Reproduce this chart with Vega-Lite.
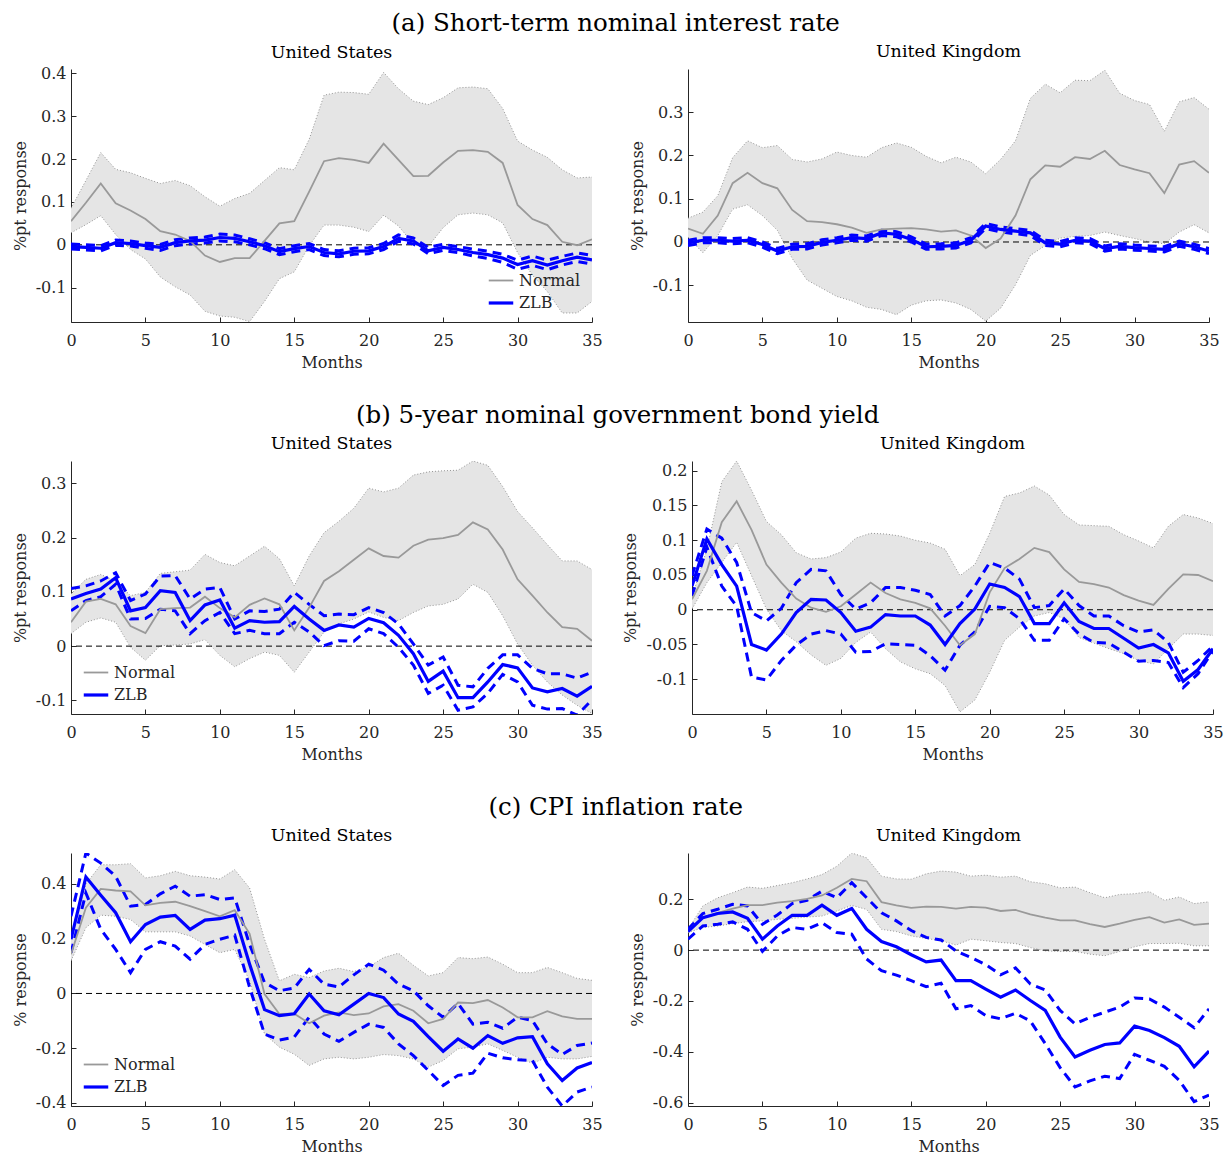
{
  "$schema": "https://vega.github.io/schema/vega-lite/v6.json",
  "background": "white",
  "padding": {"left": 12, "top": 11, "right": 0, "bottom": 0},
  "datasets": {
    "aUS": [
      {"month":0,"Normal":0.055,"nlo":0.028,"nhi":0.085,"ZLB":-0.004,"zlo":-0.010,"zhi":0.002},
      {"month":1,"Normal":0.098,"nlo":0.047,"nhi":0.150,"ZLB":-0.006,"zlo":-0.012,"zhi":0.000},
      {"month":2,"Normal":0.143,"nlo":0.068,"nhi":0.215,"ZLB":-0.008,"zlo":-0.014,"zhi":-0.002},
      {"month":3,"Normal":0.097,"nlo":0.024,"nhi":0.176,"ZLB":0.005,"zlo":-0.001,"zhi":0.011},
      {"month":4,"Normal":0.080,"nlo":-0.011,"nhi":0.168,"ZLB":0.003,"zlo":-0.003,"zhi":0.009},
      {"month":5,"Normal":0.060,"nlo":-0.033,"nhi":0.155,"ZLB":-0.002,"zlo":-0.008,"zhi":0.004},
      {"month":6,"Normal":0.032,"nlo":-0.075,"nhi":0.143,"ZLB":-0.006,"zlo":-0.013,"zhi":0.001},
      {"month":7,"Normal":0.024,"nlo":-0.098,"nhi":0.150,"ZLB":0.005,"zlo":-0.002,"zhi":0.012},
      {"month":8,"Normal":0.009,"nlo":-0.117,"nhi":0.138,"ZLB":0.009,"zlo":0.002,"zhi":0.016},
      {"month":9,"Normal":-0.025,"nlo":-0.155,"nhi":0.112,"ZLB":0.011,"zlo":0.004,"zhi":0.018},
      {"month":10,"Normal":-0.040,"nlo":-0.166,"nhi":0.090,"ZLB":0.017,"zlo":0.009,"zhi":0.025},
      {"month":11,"Normal":-0.031,"nlo":-0.169,"nhi":0.108,"ZLB":0.015,"zlo":0.007,"zhi":0.023},
      {"month":12,"Normal":-0.031,"nlo":-0.179,"nhi":0.120,"ZLB":0.007,"zlo":0.000,"zhi":0.014},
      {"month":13,"Normal":0.009,"nlo":-0.132,"nhi":0.150,"ZLB":-0.002,"zlo":-0.009,"zhi":0.005},
      {"month":14,"Normal":0.050,"nlo":-0.079,"nhi":0.180,"ZLB":-0.016,"zlo":-0.023,"zhi":-0.009},
      {"month":15,"Normal":0.055,"nlo":-0.063,"nhi":0.175,"ZLB":-0.009,"zlo":-0.016,"zhi":-0.002},
      {"month":16,"Normal":0.124,"nlo":-0.002,"nhi":0.246,"ZLB":-0.004,"zlo":-0.011,"zhi":0.003},
      {"month":17,"Normal":0.195,"nlo":0.046,"nhi":0.349,"ZLB":-0.018,"zlo":-0.025,"zhi":-0.011},
      {"month":18,"Normal":0.202,"nlo":0.046,"nhi":0.356,"ZLB":-0.021,"zlo":-0.028,"zhi":-0.014},
      {"month":19,"Normal":0.198,"nlo":0.041,"nhi":0.355,"ZLB":-0.015,"zlo":-0.022,"zhi":-0.008},
      {"month":20,"Normal":0.191,"nlo":0.031,"nhi":0.351,"ZLB":-0.014,"zlo":-0.021,"zhi":-0.007},
      {"month":21,"Normal":0.236,"nlo":0.069,"nhi":0.402,"ZLB":-0.004,"zlo":-0.011,"zhi":0.003},
      {"month":22,"Normal":0.198,"nlo":0.044,"nhi":0.364,"ZLB":0.015,"zlo":0.008,"zhi":0.023},
      {"month":23,"Normal":0.160,"nlo":0.002,"nhi":0.335,"ZLB":0.009,"zlo":0.002,"zhi":0.016},
      {"month":24,"Normal":0.161,"nlo":-0.004,"nhi":0.327,"ZLB":-0.014,"zlo":-0.021,"zhi":-0.006},
      {"month":25,"Normal":0.192,"nlo":0.040,"nhi":0.343,"ZLB":-0.006,"zlo":-0.013,"zhi":0.001},
      {"month":26,"Normal":0.219,"nlo":0.070,"nhi":0.366,"ZLB":-0.011,"zlo":-0.018,"zhi":-0.004},
      {"month":27,"Normal":0.221,"nlo":0.074,"nhi":0.368,"ZLB":-0.018,"zlo":-0.026,"zhi":-0.010},
      {"month":28,"Normal":0.217,"nlo":0.070,"nhi":0.364,"ZLB":-0.023,"zlo":-0.032,"zhi":-0.015},
      {"month":29,"Normal":0.191,"nlo":0.051,"nhi":0.318,"ZLB":-0.031,"zlo":-0.041,"zhi":-0.022},
      {"month":30,"Normal":0.093,"nlo":-0.018,"nhi":0.242,"ZLB":-0.046,"zlo":-0.057,"zhi":-0.036},
      {"month":31,"Normal":0.060,"nlo":-0.071,"nhi":0.221,"ZLB":-0.037,"zlo":-0.048,"zhi":-0.026},
      {"month":32,"Normal":0.046,"nlo":-0.109,"nhi":0.204,"ZLB":-0.047,"zlo":-0.058,"zhi":-0.036},
      {"month":33,"Normal":0.007,"nlo":-0.159,"nhi":0.175,"ZLB":-0.037,"zlo":-0.047,"zhi":-0.027},
      {"month":34,"Normal":-0.001,"nlo":-0.159,"nhi":0.156,"ZLB":-0.029,"zlo":-0.039,"zhi":-0.019},
      {"month":35,"Normal":0.013,"nlo":-0.132,"nhi":0.158,"ZLB":-0.035,"zlo":-0.045,"zhi":-0.025}
    ],
    "aUK": [
      {"month":0,"Normal":0.031,"nlo":0.011,"nhi":0.055,"ZLB":-0.002,"zlo":-0.008,"zhi":0.004},
      {"month":1,"Normal":0.019,"nlo":-0.025,"nhi":0.069,"ZLB":0.004,"zlo":-0.002,"zhi":0.010},
      {"month":2,"Normal":0.061,"nlo":0.015,"nhi":0.107,"ZLB":0.004,"zlo":-0.002,"zhi":0.010},
      {"month":3,"Normal":0.136,"nlo":0.076,"nhi":0.195,"ZLB":0.002,"zlo":-0.004,"zhi":0.008},
      {"month":4,"Normal":0.160,"nlo":0.086,"nhi":0.234,"ZLB":0.004,"zlo":-0.002,"zhi":0.010},
      {"month":5,"Normal":0.136,"nlo":0.061,"nhi":0.218,"ZLB":-0.006,"zlo":-0.012,"zhi":0.000},
      {"month":6,"Normal":0.124,"nlo":0.027,"nhi":0.223,"ZLB":-0.021,"zlo":-0.027,"zhi":-0.015},
      {"month":7,"Normal":0.074,"nlo":-0.038,"nhi":0.191,"ZLB":-0.011,"zlo":-0.017,"zhi":-0.005},
      {"month":8,"Normal":0.048,"nlo":-0.088,"nhi":0.185,"ZLB":-0.010,"zlo":-0.016,"zhi":-0.004},
      {"month":9,"Normal":0.046,"nlo":-0.107,"nhi":0.192,"ZLB":-0.001,"zlo":-0.007,"zhi":0.005},
      {"month":10,"Normal":0.041,"nlo":-0.126,"nhi":0.208,"ZLB":0.004,"zlo":-0.002,"zhi":0.010},
      {"month":11,"Normal":0.033,"nlo":-0.136,"nhi":0.200,"ZLB":0.010,"zlo":0.004,"zhi":0.016},
      {"month":12,"Normal":0.021,"nlo":-0.151,"nhi":0.196,"ZLB":0.008,"zlo":0.002,"zhi":0.014},
      {"month":13,"Normal":0.029,"nlo":-0.156,"nhi":0.218,"ZLB":0.021,"zlo":0.015,"zhi":0.027},
      {"month":14,"Normal":0.031,"nlo":-0.168,"nhi":0.229,"ZLB":0.018,"zlo":0.012,"zhi":0.024},
      {"month":15,"Normal":0.032,"nlo":-0.146,"nhi":0.219,"ZLB":0.006,"zlo":0.000,"zhi":0.012},
      {"month":16,"Normal":0.029,"nlo":-0.136,"nhi":0.198,"ZLB":-0.011,"zlo":-0.017,"zhi":-0.005},
      {"month":17,"Normal":0.024,"nlo":-0.134,"nhi":0.183,"ZLB":-0.010,"zlo":-0.016,"zhi":-0.004},
      {"month":18,"Normal":0.027,"nlo":-0.141,"nhi":0.196,"ZLB":-0.008,"zlo":-0.014,"zhi":-0.002},
      {"month":19,"Normal":0.015,"nlo":-0.156,"nhi":0.185,"ZLB":0.004,"zlo":-0.002,"zhi":0.010},
      {"month":20,"Normal":-0.014,"nlo":-0.183,"nhi":0.158,"ZLB":0.037,"zlo":0.031,"zhi":0.043},
      {"month":21,"Normal":0.008,"nlo":-0.153,"nhi":0.191,"ZLB":0.029,"zlo":0.023,"zhi":0.035},
      {"month":22,"Normal":0.061,"nlo":-0.099,"nhi":0.234,"ZLB":0.025,"zlo":0.019,"zhi":0.031},
      {"month":23,"Normal":0.145,"nlo":-0.031,"nhi":0.332,"ZLB":0.021,"zlo":0.015,"zhi":0.027},
      {"month":24,"Normal":0.177,"nlo":-0.008,"nhi":0.365,"ZLB":-0.002,"zlo":-0.008,"zhi":0.004},
      {"month":25,"Normal":0.174,"nlo":0.009,"nhi":0.345,"ZLB":-0.005,"zlo":-0.011,"zhi":0.001},
      {"month":26,"Normal":0.196,"nlo":0.013,"nhi":0.374,"ZLB":0.004,"zlo":-0.002,"zhi":0.010},
      {"month":27,"Normal":0.192,"nlo":0.015,"nhi":0.373,"ZLB":0.002,"zlo":-0.004,"zhi":0.008},
      {"month":28,"Normal":0.211,"nlo":0.023,"nhi":0.397,"ZLB":-0.015,"zlo":-0.021,"zhi":-0.009},
      {"month":29,"Normal":0.178,"nlo":0.015,"nhi":0.344,"ZLB":-0.010,"zlo":-0.016,"zhi":-0.004},
      {"month":30,"Normal":0.168,"nlo":0.008,"nhi":0.327,"ZLB":-0.013,"zlo":-0.019,"zhi":-0.007},
      {"month":31,"Normal":0.159,"nlo":0.000,"nhi":0.318,"ZLB":-0.015,"zlo":-0.021,"zhi":-0.009},
      {"month":32,"Normal":0.113,"nlo":-0.004,"nhi":0.256,"ZLB":-0.017,"zlo":-0.023,"zhi":-0.011},
      {"month":33,"Normal":0.179,"nlo":0.023,"nhi":0.324,"ZLB":-0.004,"zlo":-0.010,"zhi":0.002},
      {"month":34,"Normal":0.187,"nlo":0.040,"nhi":0.334,"ZLB":-0.011,"zlo":-0.017,"zhi":-0.005},
      {"month":35,"Normal":0.160,"nlo":0.021,"nhi":0.307,"ZLB":-0.021,"zlo":-0.027,"zhi":-0.015}
    ],
    "bUS": [
      {"month":0,"Normal":0.044,"nlo":0.023,"nhi":0.096,"ZLB":0.087,"zlo":0.065,"zhi":0.106},
      {"month":1,"Normal":0.082,"nlo":0.044,"nhi":0.123,"ZLB":0.097,"zlo":0.084,"zhi":0.111},
      {"month":2,"Normal":0.087,"nlo":0.052,"nhi":0.132,"ZLB":0.105,"zlo":0.091,"zhi":0.120},
      {"month":3,"Normal":0.077,"nlo":0.044,"nhi":0.120,"ZLB":0.126,"zlo":0.114,"zhi":0.135},
      {"month":4,"Normal":0.037,"nlo":-0.002,"nhi":0.093,"ZLB":0.065,"zlo":0.050,"zhi":0.084},
      {"month":5,"Normal":0.024,"nlo":-0.026,"nhi":0.099,"ZLB":0.071,"zlo":0.051,"zhi":0.096},
      {"month":6,"Normal":0.068,"nlo":0.001,"nhi":0.134,"ZLB":0.102,"zlo":0.068,"zhi":0.129},
      {"month":7,"Normal":0.070,"nlo":0.002,"nhi":0.137,"ZLB":0.099,"zlo":0.065,"zhi":0.130},
      {"month":8,"Normal":0.071,"nlo":0.004,"nhi":0.140,"ZLB":0.047,"zlo":0.023,"zhi":0.087},
      {"month":9,"Normal":0.091,"nlo":0.012,"nhi":0.169,"ZLB":0.076,"zlo":0.047,"zhi":0.105},
      {"month":10,"Normal":0.070,"nlo":-0.017,"nhi":0.154,"ZLB":0.085,"zlo":0.062,"zhi":0.108},
      {"month":11,"Normal":0.053,"nlo":-0.038,"nhi":0.148,"ZLB":0.033,"zlo":0.023,"zhi":0.050},
      {"month":12,"Normal":0.076,"nlo":-0.023,"nhi":0.166,"ZLB":0.047,"zlo":0.029,"zhi":0.065},
      {"month":13,"Normal":0.088,"nlo":-0.011,"nhi":0.184,"ZLB":0.044,"zlo":0.023,"zhi":0.064},
      {"month":14,"Normal":0.077,"nlo":-0.017,"nhi":0.161,"ZLB":0.045,"zlo":0.023,"zhi":0.068},
      {"month":15,"Normal":0.029,"nlo":-0.048,"nhi":0.111,"ZLB":0.073,"zlo":0.044,"zhi":0.099},
      {"month":16,"Normal":0.071,"nlo":-0.011,"nhi":0.166,"ZLB":0.050,"zlo":0.026,"zhi":0.077},
      {"month":17,"Normal":0.120,"nlo":0.026,"nhi":0.209,"ZLB":0.029,"zlo":0.001,"zhi":0.056},
      {"month":18,"Normal":0.138,"nlo":0.041,"nhi":0.230,"ZLB":0.039,"zlo":0.010,"zhi":0.059},
      {"month":19,"Normal":0.159,"nlo":0.050,"nhi":0.254,"ZLB":0.035,"zlo":0.009,"zhi":0.058},
      {"month":20,"Normal":0.180,"nlo":0.063,"nhi":0.291,"ZLB":0.051,"zlo":0.032,"zhi":0.071},
      {"month":21,"Normal":0.166,"nlo":0.053,"nhi":0.284,"ZLB":0.043,"zlo":0.023,"zhi":0.062},
      {"month":22,"Normal":0.163,"nlo":0.047,"nhi":0.291,"ZLB":0.020,"zlo":-0.002,"zhi":0.041},
      {"month":23,"Normal":0.185,"nlo":0.062,"nhi":0.315,"ZLB":-0.014,"zlo":-0.035,"zhi":0.004},
      {"month":24,"Normal":0.196,"nlo":0.074,"nhi":0.321,"ZLB":-0.065,"zlo":-0.087,"zhi":-0.035},
      {"month":25,"Normal":0.199,"nlo":0.077,"nhi":0.323,"ZLB":-0.046,"zlo":-0.072,"zhi":-0.020},
      {"month":26,"Normal":0.205,"nlo":0.087,"nhi":0.324,"ZLB":-0.095,"zlo":-0.118,"zhi":-0.072},
      {"month":27,"Normal":0.228,"nlo":0.114,"nhi":0.341,"ZLB":-0.095,"zlo":-0.112,"zhi":-0.075},
      {"month":28,"Normal":0.215,"nlo":0.099,"nhi":0.333,"ZLB":-0.066,"zlo":-0.087,"zhi":-0.041},
      {"month":29,"Normal":0.178,"nlo":0.056,"nhi":0.294,"ZLB":-0.034,"zlo":-0.052,"zhi":-0.016},
      {"month":30,"Normal":0.123,"nlo":0.004,"nhi":0.248,"ZLB":-0.040,"zlo":-0.066,"zhi":-0.016},
      {"month":31,"Normal":0.093,"nlo":-0.035,"nhi":0.218,"ZLB":-0.077,"zlo":-0.109,"zhi":-0.041},
      {"month":32,"Normal":0.062,"nlo":-0.066,"nhi":0.187,"ZLB":-0.084,"zlo":-0.116,"zhi":-0.051},
      {"month":33,"Normal":0.035,"nlo":-0.090,"nhi":0.157,"ZLB":-0.078,"zlo":-0.115,"zhi":-0.051},
      {"month":34,"Normal":0.032,"nlo":-0.109,"nhi":0.157,"ZLB":-0.092,"zlo":-0.127,"zhi":-0.059},
      {"month":35,"Normal":0.010,"nlo":-0.124,"nhi":0.141,"ZLB":-0.074,"zlo":-0.099,"zhi":-0.048}
    ],
    "bUK": [
      {"month":0,"Normal":0.015,"nlo":0.001,"nhi":0.018,"ZLB":0.034,"zlo":0.020,"zhi":0.049},
      {"month":1,"Normal":0.056,"nlo":0.039,"nhi":0.087,"ZLB":0.102,"zlo":0.090,"zhi":0.116},
      {"month":2,"Normal":0.126,"nlo":0.068,"nhi":0.184,"ZLB":0.065,"zlo":0.034,"zhi":0.103},
      {"month":3,"Normal":0.156,"nlo":0.097,"nhi":0.214,"ZLB":0.034,"zlo":0.005,"zhi":0.068},
      {"month":4,"Normal":0.115,"nlo":0.049,"nhi":0.172,"ZLB":-0.050,"zlo":-0.097,"zhi":-0.004},
      {"month":5,"Normal":0.065,"nlo":0.001,"nhi":0.127,"ZLB":-0.058,"zlo":-0.101,"zhi":-0.016},
      {"month":6,"Normal":0.039,"nlo":-0.030,"nhi":0.108,"ZLB":-0.035,"zlo":-0.073,"zhi":0.002},
      {"month":7,"Normal":0.016,"nlo":-0.046,"nhi":0.082,"ZLB":-0.004,"zlo":-0.051,"zhi":0.039},
      {"month":8,"Normal":0.003,"nlo":-0.065,"nhi":0.073,"ZLB":0.015,"zlo":-0.035,"zhi":0.058},
      {"month":9,"Normal":-0.003,"nlo":-0.080,"nhi":0.075,"ZLB":0.014,"zlo":-0.030,"zhi":0.056},
      {"month":10,"Normal":0.005,"nlo":-0.070,"nhi":0.083,"ZLB":-0.004,"zlo":-0.035,"zhi":0.022},
      {"month":11,"Normal":0.022,"nlo":-0.047,"nhi":0.103,"ZLB":-0.031,"zlo":-0.061,"zhi":0.001},
      {"month":12,"Normal":0.039,"nlo":-0.032,"nhi":0.110,"ZLB":-0.025,"zlo":-0.060,"zhi":0.010},
      {"month":13,"Normal":0.024,"nlo":-0.056,"nhi":0.109,"ZLB":-0.007,"zlo":-0.049,"zhi":0.032},
      {"month":14,"Normal":0.015,"nlo":-0.075,"nhi":0.106,"ZLB":-0.009,"zlo":-0.050,"zhi":0.032},
      {"month":15,"Normal":0.010,"nlo":-0.085,"nhi":0.100,"ZLB":-0.009,"zlo":-0.051,"zhi":0.028},
      {"month":16,"Normal":0.002,"nlo":-0.092,"nhi":0.096,"ZLB":-0.022,"zlo":-0.066,"zhi":0.022},
      {"month":17,"Normal":-0.023,"nlo":-0.109,"nhi":0.087,"ZLB":-0.050,"zlo":-0.087,"zhi":-0.009},
      {"month":18,"Normal":-0.051,"nlo":-0.147,"nhi":0.049,"ZLB":-0.020,"zlo":-0.051,"zhi":0.006},
      {"month":19,"Normal":-0.035,"nlo":-0.130,"nhi":0.065,"ZLB":0.001,"zlo":-0.032,"zhi":0.034},
      {"month":20,"Normal":0.025,"nlo":-0.090,"nhi":0.110,"ZLB":0.037,"zlo":0.005,"zhi":0.068},
      {"month":21,"Normal":0.060,"nlo":-0.044,"nhi":0.163,"ZLB":0.032,"zlo":0.003,"zhi":0.060},
      {"month":22,"Normal":0.073,"nlo":-0.025,"nhi":0.168,"ZLB":0.019,"zlo":-0.013,"zhi":0.044},
      {"month":23,"Normal":0.089,"nlo":-0.009,"nhi":0.178,"ZLB":-0.020,"zlo":-0.044,"zhi":0.003},
      {"month":24,"Normal":0.083,"nlo":-0.004,"nhi":0.165,"ZLB":-0.020,"zlo":-0.044,"zhi":0.006},
      {"month":25,"Normal":0.058,"nlo":-0.013,"nhi":0.137,"ZLB":0.010,"zlo":-0.013,"zhi":0.030},
      {"month":26,"Normal":0.040,"nlo":-0.040,"nhi":0.122,"ZLB":-0.017,"zlo":-0.035,"zhi":0.006},
      {"month":27,"Normal":0.037,"nlo":-0.048,"nhi":0.121,"ZLB":-0.027,"zlo":-0.047,"zhi":-0.009},
      {"month":28,"Normal":0.032,"nlo":-0.056,"nhi":0.120,"ZLB":-0.027,"zlo":-0.048,"zhi":-0.009},
      {"month":29,"Normal":0.021,"nlo":-0.063,"nhi":0.108,"ZLB":-0.041,"zlo":-0.061,"zhi":-0.023},
      {"month":30,"Normal":0.013,"nlo":-0.073,"nhi":0.099,"ZLB":-0.055,"zlo":-0.074,"zhi":-0.032},
      {"month":31,"Normal":0.007,"nlo":-0.078,"nhi":0.089,"ZLB":-0.050,"zlo":-0.073,"zhi":-0.029},
      {"month":32,"Normal":0.030,"nlo":-0.056,"nhi":0.120,"ZLB":-0.062,"zlo":-0.076,"zhi":-0.047},
      {"month":33,"Normal":0.051,"nlo":-0.035,"nhi":0.137,"ZLB":-0.103,"zlo":-0.112,"zhi":-0.090},
      {"month":34,"Normal":0.050,"nlo":-0.035,"nhi":0.132,"ZLB":-0.086,"zlo":-0.092,"zhi":-0.073},
      {"month":35,"Normal":0.041,"nlo":-0.037,"nhi":0.124,"ZLB":-0.056,"zlo":-0.059,"zhi":-0.052}
    ],
    "cUS": [
      {"month":0,"Normal":0.143,"nlo":0.119,"nhi":0.210,"ZLB":0.198,"zlo":0.149,"zhi":0.282},
      {"month":1,"Normal":0.313,"nlo":0.240,"nhi":0.400,"ZLB":0.425,"zlo":0.367,"zhi":0.513},
      {"month":2,"Normal":0.382,"nlo":0.286,"nhi":0.470,"ZLB":0.359,"zlo":0.234,"zhi":0.476},
      {"month":3,"Normal":0.376,"nlo":0.282,"nhi":0.470,"ZLB":0.295,"zlo":0.161,"zhi":0.428},
      {"month":4,"Normal":0.373,"nlo":0.270,"nhi":0.474,"ZLB":0.189,"zlo":0.076,"zhi":0.319},
      {"month":5,"Normal":0.322,"nlo":0.225,"nhi":0.422,"ZLB":0.252,"zlo":0.161,"zhi":0.325},
      {"month":6,"Normal":0.331,"nlo":0.225,"nhi":0.430,"ZLB":0.279,"zlo":0.189,"zhi":0.364},
      {"month":7,"Normal":0.335,"nlo":0.225,"nhi":0.446,"ZLB":0.285,"zlo":0.173,"zhi":0.392},
      {"month":8,"Normal":0.319,"nlo":0.210,"nhi":0.430,"ZLB":0.234,"zlo":0.125,"zhi":0.355},
      {"month":9,"Normal":0.301,"nlo":0.179,"nhi":0.425,"ZLB":0.268,"zlo":0.179,"zhi":0.361},
      {"month":10,"Normal":0.282,"nlo":0.149,"nhi":0.418,"ZLB":0.273,"zlo":0.198,"zhi":0.343},
      {"month":11,"Normal":0.304,"nlo":0.161,"nhi":0.452,"ZLB":0.286,"zlo":0.213,"zhi":0.349},
      {"month":12,"Normal":0.218,"nlo":0.046,"nhi":0.385,"ZLB":0.107,"zlo":0.022,"zhi":0.179},
      {"month":13,"Normal":-0.002,"nlo":-0.148,"nhi":0.198,"ZLB":-0.059,"zlo":-0.148,"zhi":0.040},
      {"month":14,"Normal":-0.075,"nlo":-0.196,"nhi":0.046,"ZLB":-0.081,"zlo":-0.170,"zhi":0.010},
      {"month":15,"Normal":-0.074,"nlo":-0.222,"nhi":0.070,"ZLB":-0.074,"zlo":-0.159,"zhi":0.020},
      {"month":16,"Normal":-0.109,"nlo":-0.263,"nhi":0.058,"ZLB":-0.002,"zlo":-0.087,"zhi":0.088},
      {"month":17,"Normal":-0.081,"nlo":-0.239,"nhi":0.082,"ZLB":-0.063,"zlo":-0.148,"zhi":0.034},
      {"month":18,"Normal":-0.069,"nlo":-0.233,"nhi":0.092,"ZLB":-0.078,"zlo":-0.175,"zhi":0.024},
      {"month":19,"Normal":-0.079,"nlo":-0.239,"nhi":0.080,"ZLB":-0.039,"zlo":-0.142,"zhi":0.068},
      {"month":20,"Normal":-0.073,"nlo":-0.233,"nhi":0.097,"ZLB":0.000,"zlo":-0.112,"zhi":0.107},
      {"month":21,"Normal":-0.047,"nlo":-0.223,"nhi":0.131,"ZLB":-0.015,"zlo":-0.124,"zhi":0.085},
      {"month":22,"Normal":-0.039,"nlo":-0.227,"nhi":0.147,"ZLB":-0.075,"zlo":-0.184,"zhi":0.034},
      {"month":23,"Normal":-0.063,"nlo":-0.239,"nhi":0.103,"ZLB":-0.102,"zlo":-0.227,"zhi":0.010},
      {"month":24,"Normal":-0.109,"nlo":-0.269,"nhi":0.064,"ZLB":-0.158,"zlo":-0.281,"zhi":-0.045},
      {"month":25,"Normal":-0.093,"nlo":-0.245,"nhi":0.076,"ZLB":-0.211,"zlo":-0.336,"zhi":-0.087},
      {"month":26,"Normal":-0.033,"nlo":-0.202,"nhi":0.131,"ZLB":-0.166,"zlo":-0.299,"zhi":-0.036},
      {"month":27,"Normal":-0.035,"nlo":-0.196,"nhi":0.127,"ZLB":-0.200,"zlo":-0.291,"zhi":-0.112},
      {"month":28,"Normal":-0.024,"nlo":-0.184,"nhi":0.133,"ZLB":-0.154,"zlo":-0.218,"zhi":-0.105},
      {"month":29,"Normal":-0.051,"nlo":-0.208,"nhi":0.107,"ZLB":-0.182,"zlo":-0.235,"zhi":-0.127},
      {"month":30,"Normal":-0.087,"nlo":-0.233,"nhi":0.076,"ZLB":-0.162,"zlo":-0.242,"zhi":-0.087},
      {"month":31,"Normal":-0.087,"nlo":-0.255,"nhi":0.076,"ZLB":-0.158,"zlo":-0.245,"zhi":-0.099},
      {"month":32,"Normal":-0.065,"nlo":-0.233,"nhi":0.095,"ZLB":-0.257,"zlo":-0.342,"zhi":-0.184},
      {"month":33,"Normal":-0.084,"nlo":-0.239,"nhi":0.076,"ZLB":-0.318,"zlo":-0.411,"zhi":-0.223},
      {"month":34,"Normal":-0.093,"nlo":-0.239,"nhi":0.055,"ZLB":-0.272,"zlo":-0.360,"zhi":-0.190},
      {"month":35,"Normal":-0.093,"nlo":-0.230,"nhi":0.048,"ZLB":-0.252,"zlo":-0.342,"zhi":-0.181}
    ],
    "cUK": [
      {"month":0,"Normal":0.076,"nlo":0.069,"nhi":0.082,"ZLB":0.073,"zlo":0.043,"zhi":0.082},
      {"month":1,"Normal":0.128,"nlo":0.089,"nhi":0.174,"ZLB":0.128,"zlo":0.095,"zhi":0.144},
      {"month":2,"Normal":0.147,"nlo":0.095,"nhi":0.206,"ZLB":0.144,"zlo":0.102,"zhi":0.161},
      {"month":3,"Normal":0.163,"nlo":0.104,"nhi":0.226,"ZLB":0.150,"zlo":0.111,"zhi":0.180},
      {"month":4,"Normal":0.177,"nlo":0.112,"nhi":0.248,"ZLB":0.125,"zlo":0.082,"zhi":0.174},
      {"month":5,"Normal":0.177,"nlo":0.115,"nhi":0.243,"ZLB":0.043,"zlo":-0.005,"zhi":0.102},
      {"month":6,"Normal":0.187,"nlo":0.121,"nhi":0.254,"ZLB":0.095,"zlo":0.056,"zhi":0.138},
      {"month":7,"Normal":0.193,"nlo":0.125,"nhi":0.265,"ZLB":0.137,"zlo":0.089,"zhi":0.183},
      {"month":8,"Normal":0.202,"nlo":0.130,"nhi":0.280,"ZLB":0.137,"zlo":0.082,"zhi":0.196},
      {"month":9,"Normal":0.215,"nlo":0.134,"nhi":0.297,"ZLB":0.177,"zlo":0.108,"zhi":0.232},
      {"month":10,"Normal":0.245,"nlo":0.154,"nhi":0.330,"ZLB":0.137,"zlo":0.069,"zhi":0.206},
      {"month":11,"Normal":0.280,"nlo":0.176,"nhi":0.382,"ZLB":0.164,"zlo":0.063,"zhi":0.265},
      {"month":12,"Normal":0.271,"nlo":0.160,"nhi":0.363,"ZLB":0.082,"zlo":-0.035,"zhi":0.206},
      {"month":13,"Normal":0.189,"nlo":0.082,"nhi":0.291,"ZLB":0.034,"zlo":-0.081,"zhi":0.147},
      {"month":14,"Normal":0.176,"nlo":0.073,"nhi":0.280,"ZLB":0.013,"zlo":-0.098,"zhi":0.115},
      {"month":15,"Normal":0.166,"nlo":0.056,"nhi":0.279,"ZLB":-0.018,"zlo":-0.120,"zhi":0.077},
      {"month":16,"Normal":0.171,"nlo":0.046,"nhi":0.300,"ZLB":-0.046,"zlo":-0.144,"zhi":0.050},
      {"month":17,"Normal":0.170,"nlo":0.037,"nhi":0.311,"ZLB":-0.039,"zlo":-0.130,"zhi":0.040},
      {"month":18,"Normal":0.163,"nlo":0.020,"nhi":0.307,"ZLB":-0.120,"zlo":-0.231,"zhi":-0.003},
      {"month":19,"Normal":0.170,"nlo":0.043,"nhi":0.291,"ZLB":-0.120,"zlo":-0.218,"zhi":-0.029},
      {"month":20,"Normal":0.167,"nlo":0.037,"nhi":0.295,"ZLB":-0.153,"zlo":-0.257,"zhi":-0.057},
      {"month":21,"Normal":0.154,"nlo":0.030,"nhi":0.287,"ZLB":-0.185,"zlo":-0.270,"zhi":-0.097},
      {"month":22,"Normal":0.158,"nlo":0.026,"nhi":0.291,"ZLB":-0.157,"zlo":-0.248,"zhi":-0.070},
      {"month":23,"Normal":0.141,"nlo":0.010,"nhi":0.269,"ZLB":-0.198,"zlo":-0.279,"zhi":-0.133},
      {"month":24,"Normal":0.128,"nlo":-0.003,"nhi":0.261,"ZLB":-0.237,"zlo":-0.368,"zhi":-0.157},
      {"month":25,"Normal":0.117,"nlo":-0.005,"nhi":0.245,"ZLB":-0.342,"zlo":-0.462,"zhi":-0.237},
      {"month":26,"Normal":0.117,"nlo":-0.005,"nhi":0.248,"ZLB":-0.420,"zlo":-0.538,"zhi":-0.290},
      {"month":27,"Normal":0.102,"nlo":-0.016,"nhi":0.226,"ZLB":-0.394,"zlo":-0.514,"zhi":-0.264},
      {"month":28,"Normal":0.091,"nlo":-0.022,"nhi":0.206,"ZLB":-0.371,"zlo":-0.496,"zhi":-0.244},
      {"month":29,"Normal":0.104,"nlo":-0.005,"nhi":0.219,"ZLB":-0.365,"zlo":-0.505,"zhi":-0.224},
      {"month":30,"Normal":0.119,"nlo":0.013,"nhi":0.222,"ZLB":-0.299,"zlo":-0.410,"zhi":-0.188},
      {"month":31,"Normal":0.130,"nlo":0.026,"nhi":0.230,"ZLB":-0.316,"zlo":-0.433,"zhi":-0.192},
      {"month":32,"Normal":0.108,"nlo":0.026,"nhi":0.196,"ZLB":-0.344,"zlo":-0.457,"zhi":-0.224},
      {"month":33,"Normal":0.121,"nlo":0.027,"nhi":0.209,"ZLB":-0.378,"zlo":-0.512,"zhi":-0.264},
      {"month":34,"Normal":0.099,"nlo":0.017,"nhi":0.183,"ZLB":-0.459,"zlo":-0.596,"zhi":-0.305},
      {"month":35,"Normal":0.104,"nlo":0.017,"nhi":0.190,"ZLB":-0.397,"zlo":-0.570,"zhi":-0.231}
    ]
  },
  "vconcat": [
    {
      "title": {"text": "(a) Short-term nominal interest rate", "fontSize": 24.5, "anchor": "middle", "offset": 6},
      "resolve": {"scale": {"color": "independent", "strokeWidth": "independent"}},
      "spacing": 26,
      "hconcat": [
        {
          "title": {"text": "United States", "offset": 4},
          "width": 521, "height": 253,
          "data": {"name": "aUS"},
          "layer": [
            {"mark": {"type": "area", "color": "#e5e5e5", "clip": true},
             "encoding": {
               "x": {"field": "month", "type": "quantitative", "scale": {"domain": [0, 35], "nice": false, "zero": false}, "axis": {"values": [0, 5, 10, 15, 20, 25, 30, 35], "title": "Months"}},
               "y": {"field": "nlo", "type": "quantitative", "scale": {"domain": [-0.18, 0.41], "nice": false, "zero": false}, "axis": {"values": [-0.1, 0, 0.1, 0.2, 0.3, 0.4], "title": "%pt response", "format": ".2~f", "labelExpr": "replace(datum.label, '−', '-')"}},
               "y2": {"field": "nhi"}}},
            {"mark": {"type": "line", "color": "#8a8a8a", "strokeWidth": 0.9, "strokeDash": [1, 2], "clip": true},
             "encoding": {"x": {"field": "month", "type": "quantitative"}, "y": {"field": "nhi", "type": "quantitative"}}},
            {"mark": {"type": "line", "color": "#8a8a8a", "strokeWidth": 0.9, "strokeDash": [1, 2], "clip": true},
             "encoding": {"x": {"field": "month", "type": "quantitative"}, "y": {"field": "nlo", "type": "quantitative"}}},
            {"data": {"values": [{}]}, "mark": {"type": "rule", "color": "#000000", "strokeWidth": 1, "strokeDash": [6, 4]},
             "encoding": {"y": {"datum": 0}}},
            {"mark": {"type": "line", "color": "#0000ff", "strokeWidth": 3, "strokeDash": [9, 6], "clip": true},
             "encoding": {"x": {"field": "month", "type": "quantitative"}, "y": {"field": "zhi", "type": "quantitative"}}},
            {"mark": {"type": "line", "color": "#0000ff", "strokeWidth": 3, "strokeDash": [9, 6], "clip": true},
             "encoding": {"x": {"field": "month", "type": "quantitative"}, "y": {"field": "zlo", "type": "quantitative"}}},
            {"transform": [{"fold": ["Normal", "ZLB"], "as": ["series", "value"]}],
             "mark": {"type": "line", "clip": true},
             "encoding": {
               "x": {"field": "month", "type": "quantitative"},
               "y": {"field": "value", "type": "quantitative"},
               "color": {"field": "series", "type": "nominal", "scale": {"domain": ["Normal", "ZLB"], "range": ["#999999", "#0000ff"]}, "legend": {"orient": "bottom-right", "title": null}},
               "strokeWidth": {"field": "series", "type": "ordinal", "scale": {"domain": ["Normal", "ZLB"], "range": [1.8, 3.2]}, "legend": {"orient": "bottom-right", "title": null}}}}
          ]
        },
        {
          "title": {"text": "United Kingdom"},
          "width": 521, "height": 253,
          "data": {"name": "aUK"},
          "layer": [
            {"mark": {"type": "area", "color": "#e5e5e5", "clip": true},
             "encoding": {
               "x": {"field": "month", "type": "quantitative", "scale": {"domain": [0, 35], "nice": false, "zero": false}, "axis": {"values": [0, 5, 10, 15, 20, 25, 30, 35], "title": "Months"}},
               "y": {"field": "nlo", "type": "quantitative", "scale": {"domain": [-0.185, 0.40], "nice": false, "zero": false}, "axis": {"values": [-0.1, 0, 0.1, 0.2, 0.3], "title": "%pt response", "format": ".2~f", "labelExpr": "replace(datum.label, '−', '-')"}},
               "y2": {"field": "nhi"}}},
            {"mark": {"type": "line", "color": "#8a8a8a", "strokeWidth": 0.9, "strokeDash": [1, 2], "clip": true},
             "encoding": {"x": {"field": "month", "type": "quantitative"}, "y": {"field": "nhi", "type": "quantitative"}}},
            {"mark": {"type": "line", "color": "#8a8a8a", "strokeWidth": 0.9, "strokeDash": [1, 2], "clip": true},
             "encoding": {"x": {"field": "month", "type": "quantitative"}, "y": {"field": "nlo", "type": "quantitative"}}},
            {"data": {"values": [{}]}, "mark": {"type": "rule", "color": "#000000", "strokeWidth": 1, "strokeDash": [6, 4]},
             "encoding": {"y": {"datum": 0}}},
            {"mark": {"type": "line", "color": "#0000ff", "strokeWidth": 3, "strokeDash": [9, 6], "clip": true},
             "encoding": {"x": {"field": "month", "type": "quantitative"}, "y": {"field": "zhi", "type": "quantitative"}}},
            {"mark": {"type": "line", "color": "#0000ff", "strokeWidth": 3, "strokeDash": [9, 6], "clip": true},
             "encoding": {"x": {"field": "month", "type": "quantitative"}, "y": {"field": "zlo", "type": "quantitative"}}},
            {"transform": [{"fold": ["Normal", "ZLB"], "as": ["series", "value"]}],
             "mark": {"type": "line", "clip": true},
             "encoding": {
               "x": {"field": "month", "type": "quantitative"},
               "y": {"field": "value", "type": "quantitative"},
               "color": {"field": "series", "type": "nominal", "scale": {"domain": ["Normal", "ZLB"], "range": ["#999999", "#0000ff"]}, "legend": null},
               "strokeWidth": {"field": "series", "type": "ordinal", "scale": {"domain": ["Normal", "ZLB"], "range": [1.8, 3.2]}, "legend": null}}}
          ]
        }
      ]
    },
    {
      "title": {"text": "(b) 5-year nominal government bond yield", "fontSize": 24.5, "anchor": "middle", "offset": 6},
      "resolve": {"scale": {"color": "independent", "strokeWidth": "independent"}},
      "spacing": 19,
      "hconcat": [
        {
          "title": {"text": "United States"},
          "width": 521, "height": 253,
          "data": {"name": "bUS"},
          "layer": [
            {"mark": {"type": "area", "color": "#e5e5e5", "clip": true},
             "encoding": {
               "x": {"field": "month", "type": "quantitative", "scale": {"domain": [0, 35], "nice": false, "zero": false}, "axis": {"values": [0, 5, 10, 15, 20, 25, 30, 35], "title": "Months"}},
               "y": {"field": "nlo", "type": "quantitative", "scale": {"domain": [-0.125, 0.341], "nice": false, "zero": false}, "axis": {"values": [-0.1, 0, 0.1, 0.2, 0.3], "title": "%pt response", "format": ".2~f", "labelExpr": "replace(datum.label, '−', '-')"}},
               "y2": {"field": "nhi"}}},
            {"mark": {"type": "line", "color": "#8a8a8a", "strokeWidth": 0.9, "strokeDash": [1, 2], "clip": true},
             "encoding": {"x": {"field": "month", "type": "quantitative"}, "y": {"field": "nhi", "type": "quantitative"}}},
            {"mark": {"type": "line", "color": "#8a8a8a", "strokeWidth": 0.9, "strokeDash": [1, 2], "clip": true},
             "encoding": {"x": {"field": "month", "type": "quantitative"}, "y": {"field": "nlo", "type": "quantitative"}}},
            {"data": {"values": [{}]}, "mark": {"type": "rule", "color": "#000000", "strokeWidth": 1, "strokeDash": [6, 4]},
             "encoding": {"y": {"datum": 0}}},
            {"mark": {"type": "line", "color": "#0000ff", "strokeWidth": 3, "strokeDash": [9, 6], "clip": true},
             "encoding": {"x": {"field": "month", "type": "quantitative"}, "y": {"field": "zhi", "type": "quantitative"}}},
            {"mark": {"type": "line", "color": "#0000ff", "strokeWidth": 3, "strokeDash": [9, 6], "clip": true},
             "encoding": {"x": {"field": "month", "type": "quantitative"}, "y": {"field": "zlo", "type": "quantitative"}}},
            {"transform": [{"fold": ["Normal", "ZLB"], "as": ["series", "value"]}],
             "mark": {"type": "line", "clip": true},
             "encoding": {
               "x": {"field": "month", "type": "quantitative"},
               "y": {"field": "value", "type": "quantitative"},
               "color": {"field": "series", "type": "nominal", "scale": {"domain": ["Normal", "ZLB"], "range": ["#999999", "#0000ff"]}, "legend": {"orient": "bottom-left", "title": null}},
               "strokeWidth": {"field": "series", "type": "ordinal", "scale": {"domain": ["Normal", "ZLB"], "range": [1.8, 3.2]}, "legend": {"orient": "bottom-left", "title": null}}}}
          ]
        },
        {
          "title": {"text": "United Kingdom"},
          "width": 521, "height": 253,
          "data": {"name": "bUK"},
          "layer": [
            {"mark": {"type": "area", "color": "#e5e5e5", "clip": true},
             "encoding": {
               "x": {"field": "month", "type": "quantitative", "scale": {"domain": [0, 35], "nice": false, "zero": false}, "axis": {"values": [0, 5, 10, 15, 20, 25, 30, 35], "title": "Months"}},
               "y": {"field": "nlo", "type": "quantitative", "scale": {"domain": [-0.15, 0.214], "nice": false, "zero": false}, "axis": {"values": [-0.1, -0.05, 0, 0.05, 0.1, 0.15, 0.2], "title": "%pt response", "format": ".2~f", "labelExpr": "replace(datum.label, '−', '-')"}},
               "y2": {"field": "nhi"}}},
            {"mark": {"type": "line", "color": "#8a8a8a", "strokeWidth": 0.9, "strokeDash": [1, 2], "clip": true},
             "encoding": {"x": {"field": "month", "type": "quantitative"}, "y": {"field": "nhi", "type": "quantitative"}}},
            {"mark": {"type": "line", "color": "#8a8a8a", "strokeWidth": 0.9, "strokeDash": [1, 2], "clip": true},
             "encoding": {"x": {"field": "month", "type": "quantitative"}, "y": {"field": "nlo", "type": "quantitative"}}},
            {"data": {"values": [{}]}, "mark": {"type": "rule", "color": "#000000", "strokeWidth": 1, "strokeDash": [6, 4]},
             "encoding": {"y": {"datum": 0}}},
            {"mark": {"type": "line", "color": "#0000ff", "strokeWidth": 3, "strokeDash": [9, 6], "clip": true},
             "encoding": {"x": {"field": "month", "type": "quantitative"}, "y": {"field": "zhi", "type": "quantitative"}}},
            {"mark": {"type": "line", "color": "#0000ff", "strokeWidth": 3, "strokeDash": [9, 6], "clip": true},
             "encoding": {"x": {"field": "month", "type": "quantitative"}, "y": {"field": "zlo", "type": "quantitative"}}},
            {"transform": [{"fold": ["Normal", "ZLB"], "as": ["series", "value"]}],
             "mark": {"type": "line", "clip": true},
             "encoding": {
               "x": {"field": "month", "type": "quantitative"},
               "y": {"field": "value", "type": "quantitative"},
               "color": {"field": "series", "type": "nominal", "scale": {"domain": ["Normal", "ZLB"], "range": ["#999999", "#0000ff"]}, "legend": null},
               "strokeWidth": {"field": "series", "type": "ordinal", "scale": {"domain": ["Normal", "ZLB"], "range": [1.8, 3.2]}, "legend": null}}}
          ]
        }
      ]
    },
    {
      "title": {"text": "(c) CPI inflation rate", "fontSize": 24.5, "anchor": "middle", "offset": 6},
      "resolve": {"scale": {"color": "independent", "strokeWidth": "independent"}},
      "spacing": 26,
      "hconcat": [
        {
          "title": {"text": "United States"},
          "width": 521, "height": 253,
          "data": {"name": "cUS"},
          "layer": [
            {"mark": {"type": "area", "color": "#e5e5e5", "clip": true},
             "encoding": {
               "x": {"field": "month", "type": "quantitative", "scale": {"domain": [0, 35], "nice": false, "zero": false}, "axis": {"values": [0, 5, 10, 15, 20, 25, 30, 35], "title": "Months"}},
               "y": {"field": "nlo", "type": "quantitative", "scale": {"domain": [-0.411, 0.513], "nice": false, "zero": false}, "axis": {"values": [-0.4, -0.2, 0, 0.2, 0.4], "title": "% response", "format": ".2~f", "labelExpr": "replace(datum.label, '−', '-')"}},
               "y2": {"field": "nhi"}}},
            {"mark": {"type": "line", "color": "#8a8a8a", "strokeWidth": 0.9, "strokeDash": [1, 2], "clip": true},
             "encoding": {"x": {"field": "month", "type": "quantitative"}, "y": {"field": "nhi", "type": "quantitative"}}},
            {"mark": {"type": "line", "color": "#8a8a8a", "strokeWidth": 0.9, "strokeDash": [1, 2], "clip": true},
             "encoding": {"x": {"field": "month", "type": "quantitative"}, "y": {"field": "nlo", "type": "quantitative"}}},
            {"data": {"values": [{}]}, "mark": {"type": "rule", "color": "#000000", "strokeWidth": 1, "strokeDash": [6, 4]},
             "encoding": {"y": {"datum": 0}}},
            {"mark": {"type": "line", "color": "#0000ff", "strokeWidth": 3, "strokeDash": [9, 6], "clip": true},
             "encoding": {"x": {"field": "month", "type": "quantitative"}, "y": {"field": "zhi", "type": "quantitative"}}},
            {"mark": {"type": "line", "color": "#0000ff", "strokeWidth": 3, "strokeDash": [9, 6], "clip": true},
             "encoding": {"x": {"field": "month", "type": "quantitative"}, "y": {"field": "zlo", "type": "quantitative"}}},
            {"transform": [{"fold": ["Normal", "ZLB"], "as": ["series", "value"]}],
             "mark": {"type": "line", "clip": true},
             "encoding": {
               "x": {"field": "month", "type": "quantitative"},
               "y": {"field": "value", "type": "quantitative"},
               "color": {"field": "series", "type": "nominal", "scale": {"domain": ["Normal", "ZLB"], "range": ["#999999", "#0000ff"]}, "legend": {"orient": "bottom-left", "title": null}},
               "strokeWidth": {"field": "series", "type": "ordinal", "scale": {"domain": ["Normal", "ZLB"], "range": [1.8, 3.2]}, "legend": {"orient": "bottom-left", "title": null}}}}
          ]
        },
        {
          "title": {"text": "United Kingdom"},
          "width": 521, "height": 253,
          "data": {"name": "cUK"},
          "layer": [
            {"mark": {"type": "area", "color": "#e5e5e5", "clip": true},
             "encoding": {
               "x": {"field": "month", "type": "quantitative", "scale": {"domain": [0, 35], "nice": false, "zero": false}, "axis": {"values": [0, 5, 10, 15, 20, 25, 30, 35], "title": "Months"}},
               "y": {"field": "nlo", "type": "quantitative", "scale": {"domain": [-0.613, 0.382], "nice": false, "zero": false}, "axis": {"values": [-0.6, -0.4, -0.2, 0, 0.2], "title": "% response", "format": ".2~f", "labelExpr": "replace(datum.label, '−', '-')"}},
               "y2": {"field": "nhi"}}},
            {"mark": {"type": "line", "color": "#8a8a8a", "strokeWidth": 0.9, "strokeDash": [1, 2], "clip": true},
             "encoding": {"x": {"field": "month", "type": "quantitative"}, "y": {"field": "nhi", "type": "quantitative"}}},
            {"mark": {"type": "line", "color": "#8a8a8a", "strokeWidth": 0.9, "strokeDash": [1, 2], "clip": true},
             "encoding": {"x": {"field": "month", "type": "quantitative"}, "y": {"field": "nlo", "type": "quantitative"}}},
            {"data": {"values": [{}]}, "mark": {"type": "rule", "color": "#000000", "strokeWidth": 1, "strokeDash": [6, 4]},
             "encoding": {"y": {"datum": 0}}},
            {"mark": {"type": "line", "color": "#0000ff", "strokeWidth": 3, "strokeDash": [9, 6], "clip": true},
             "encoding": {"x": {"field": "month", "type": "quantitative"}, "y": {"field": "zhi", "type": "quantitative"}}},
            {"mark": {"type": "line", "color": "#0000ff", "strokeWidth": 3, "strokeDash": [9, 6], "clip": true},
             "encoding": {"x": {"field": "month", "type": "quantitative"}, "y": {"field": "zlo", "type": "quantitative"}}},
            {"transform": [{"fold": ["Normal", "ZLB"], "as": ["series", "value"]}],
             "mark": {"type": "line", "clip": true},
             "encoding": {
               "x": {"field": "month", "type": "quantitative"},
               "y": {"field": "value", "type": "quantitative"},
               "color": {"field": "series", "type": "nominal", "scale": {"domain": ["Normal", "ZLB"], "range": ["#999999", "#0000ff"]}, "legend": null},
               "strokeWidth": {"field": "series", "type": "ordinal", "scale": {"domain": ["Normal", "ZLB"], "range": [1.8, 3.2]}, "legend": null}}}
          ]
        }
      ]
    }
  ],
  "spacing": 33,
  "resolve": {"scale": {"color": "independent", "strokeWidth": "independent"}},
  "config": {
    "font": "DejaVu Serif",
    "view": {"stroke": null},
    "axis": {"grid": false, "labelFont": "DejaVu Serif", "labelFontSize": 16, "titleFont": "DejaVu Serif", "titleFontSize": 16, "titleFontWeight": "normal", "labelColor": "#262626", "titleColor": "#262626", "domainColor": "#262626", "tickColor": "#262626", "tickSize": -5, "labelPadding": 10, "titlePadding": 7, "labelFlush": false},
    "axisX": {"labelPadding": 15, "titlePadding": 6},
    "title": {"font": "DejaVu Serif", "fontWeight": "normal", "fontSize": 17.5, "color": "#000000", "offset": 9},
    "legend": {"labelFont": "DejaVu Serif", "labelFontSize": 16, "labelColor": "#262626", "symbolType": "stroke", "symbolSize": 600, "rowPadding": -4, "padding": 0, "labelOffset": 4, "offset": 11}
  }
}
